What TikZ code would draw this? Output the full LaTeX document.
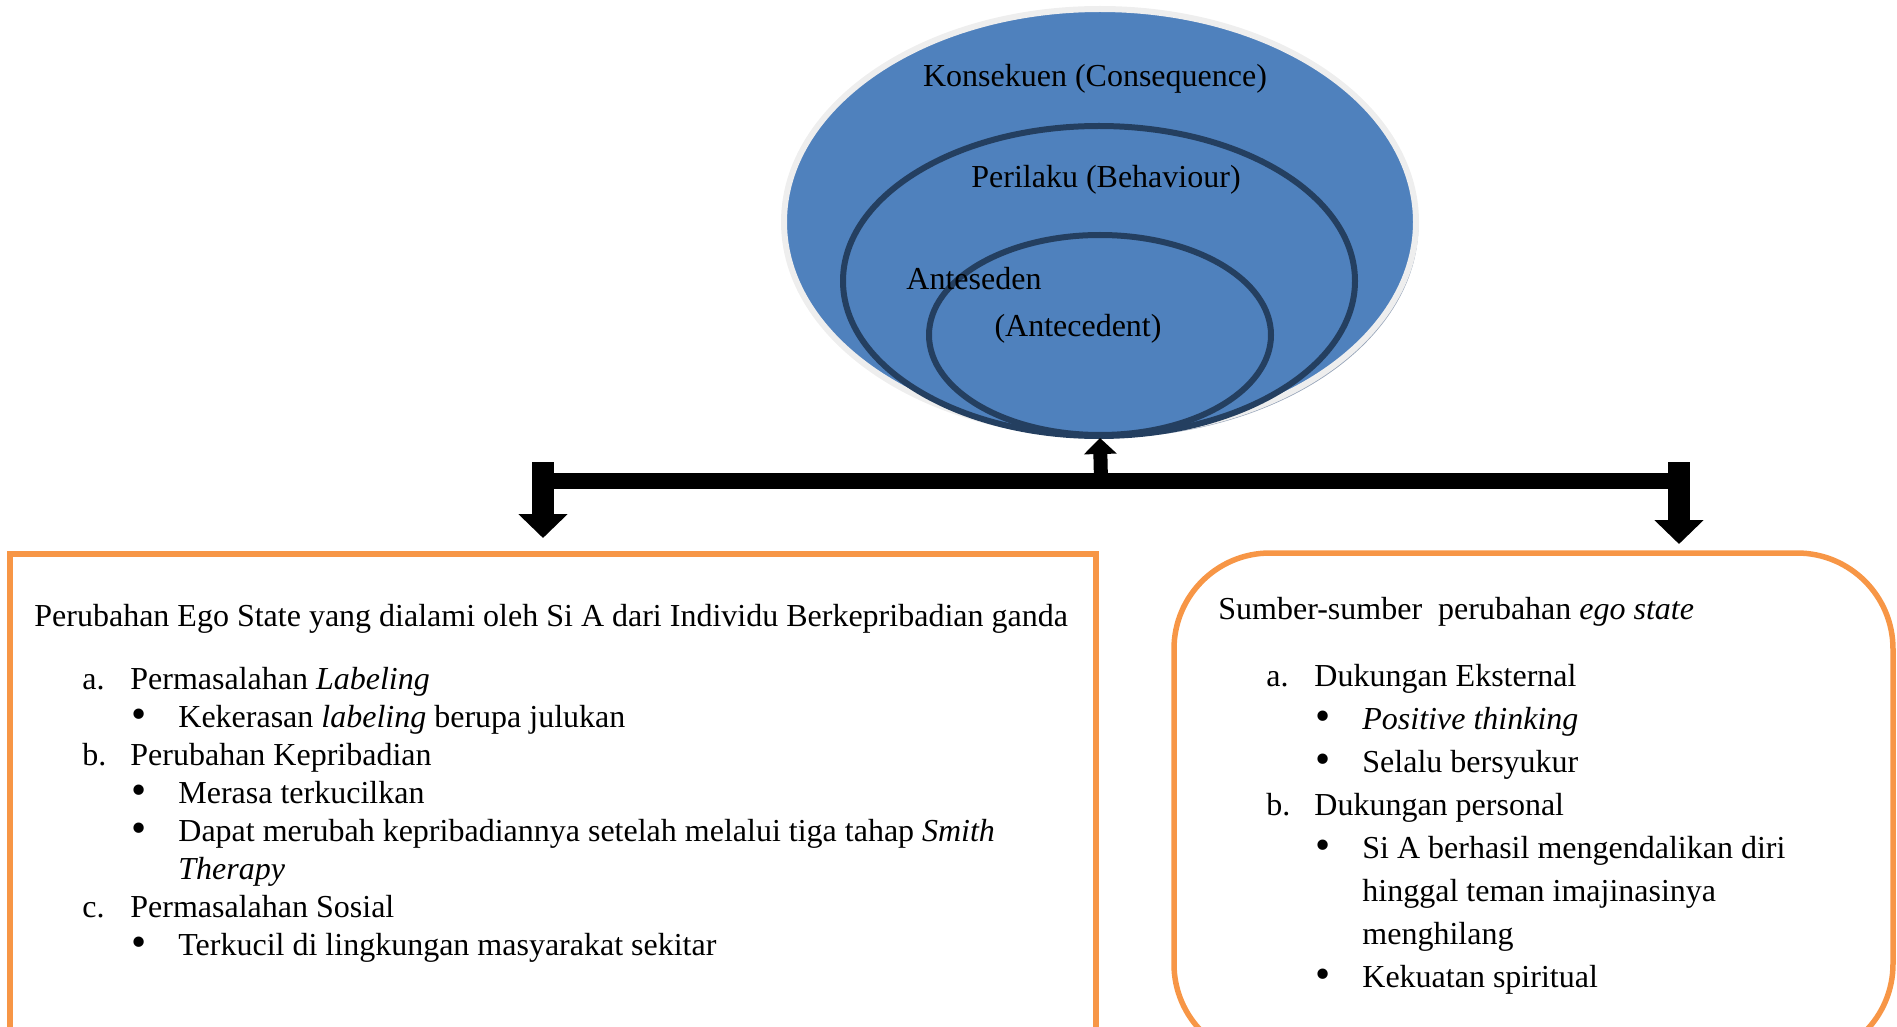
\documentclass[tikz,border=0pt]{standalone}
\usepackage{fontspec}
\usepackage{graphicx}
\setmainfont{Liberation Serif}
\usetikzlibrary{positioning,arrows.meta,shapes.geometric,shadows}

\definecolor{ringblue}{HTML}{4F81BD}
\definecolor{ringline}{HTML}{243F60}
\definecolor{boxorange}{HTML}{F79646}
\definecolor{bevel}{HTML}{EEEEEE}
\definecolor{shade}{HTML}{95A3B8}

\newcommand{\itm}[2]{\hspace*{24pt}\makebox[24pt][l]{#1}#2}
\newcommand{\bul}[1]{\hspace*{48.5pt}\makebox[23.5pt][l]{\raisebox{-0.5pt}{\scalebox{1.35}{\textbullet}}}#1}
\newcommand{\cnt}[1]{\hspace*{72pt}#1}

\begin{document}
\begin{tikzpicture}[
    x=0.5pt, y=-0.5pt,
    ring/.style={ellipse,draw=ringline,line width=3pt,fill=ringblue,inner sep=0pt},
    label/.style={font=\fontsize{16}{19}\selectfont,inner sep=0pt},
    panel/.style={draw=boxorange,line width=2.75pt,anchor=north west,inner sep=0pt,outer sep=0pt},
    listtext/.style={anchor=north west,align=left,inner sep=0pt},
    bar/.style={line width=8pt},
    down/.style={-{Triangle[width=24pt,length=12pt]},line width=11pt}
]
\useasboundingbox (0,0) rectangle (1897,1027);

% lingkaran ABC
\node[ellipse,fill=ringblue,draw=bevel,line width=3pt,minimum width=316pt,minimum height=213pt,
      drop shadow={shadow xshift=1.2pt,shadow yshift=-1.5pt,fill=shade,opacity=1}] (outer) at (1100,222) {};
\node[ring,minimum width=256pt,minimum height=155pt] (middle) at (1099,281) {};
\node[ring,minimum width=171pt,minimum height=100pt] (inner) at (1100,335) {};

\node[label] (kons) at (1095,79) {Konsekuen (Consequence)};
\node[label] (peri) at (1106,180) {Perilaku (Behaviour)};
\node[label] (ante) at (974,279) {Anteseden};
\node[label] (antec) at (1078,329) {(Antecedent)};

% kotak
\node[panel,minimum width=543pt,minimum height=258pt] (lbox) at (10,554) {};
\node[panel,rounded corners=48pt,minimum width=359.5pt,minimum height=253.5pt] (rbox) at (1174,553) {};

\node[listtext,font=\fontsize{16}{19}\selectfont] (ltext) at (34,604) {%
Perubahan Ego State yang dialami oleh Si A dari Individu Berkepribadian ganda\\[12.5pt]
\itm{a.}{Permasalahan \textit{Labeling}}\\
\bul{Kekerasan \textit{labeling} berupa julukan}\\
\itm{b.}{Perubahan Kepribadian}\\
\bul{Merasa terkucilkan}\\
\bul{Dapat merubah kepribadiannya setelah melalui tiga tahap \textit{Smith}}\\
\cnt{\textit{Therapy}}\\
\itm{c.}{Permasalahan Sosial}\\
\bul{Terkucil di lingkungan masyarakat sekitar}};

\node[listtext,font=\fontsize{16}{21.5}\selectfont] (rtext) at (1218,597) {%
Sumber-sumber~~perubahan \textit{ego state}\\[12pt]
\itm{a.}{Dukungan Eksternal}\\
\bul{\textit{Positive thinking}}\\
\bul{Selalu bersyukur}\\
\itm{b.}{Dukungan personal}\\
\bul{Si A berhasil mengendalikan diri}\\
\cnt{hinggal teman imajinasinya}\\
\cnt{menghilang}\\
\bul{Kekuatan spiritual}};

% panah
\coordinate (hub) at (1101,481);
\coordinate (lstub) at (543,462);
\coordinate (rstub) at (1679,462);
\draw[bar] (hub -| lstub) -- (hub -| rstub);
\draw[down,shorten >=8pt] (lstub) -- (lstub |- lbox.north);
\draw[down,shorten >=4.5pt] (rstub) -- (rstub |- rbox.north);
\draw[-{Triangle[width=16pt,length=8pt]},line width=7pt] (hub) -- (outer.south);

\end{tikzpicture}
\end{document}
